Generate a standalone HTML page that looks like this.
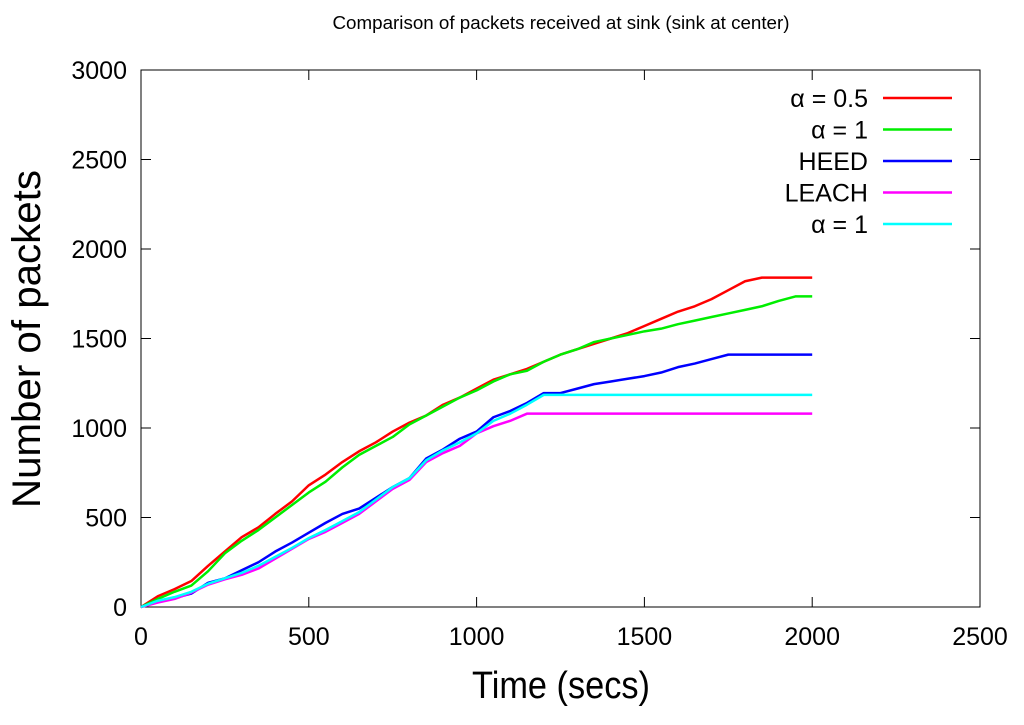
<!DOCTYPE html>
<html><head><meta charset="utf-8"><style>
body{margin:0;background:#fff}
text{font-family:"Liberation Sans","DejaVu Sans",sans-serif}
</style></head><body>
<svg id="c" width="1024" height="720" xmlns="http://www.w3.org/2000/svg">
<text x="561" y="29" font-size="18" text-anchor="middle" textLength="457" lengthAdjust="spacingAndGlyphs">Comparison of packets received at sink (sink at center)</text>
<rect x="141" y="70" width="839" height="537" fill="none" stroke="#000" stroke-width="1"/>
<g id="ticks"></g>
<text x="561" y="698" font-size="38" text-anchor="middle" textLength="178" lengthAdjust="spacingAndGlyphs">Time (secs)</text>
<text transform="translate(40,339) rotate(-90)" font-size="40" text-anchor="middle" textLength="338" lengthAdjust="spacingAndGlyphs">Number of packets</text>
<g id="series"></g>
<g id="legend"></g>
</svg>
<script>
const times=[0,50,100,150,200,250,300,350,400,450,500,550,600,650,700,750,800,850,900,950,1000,1050,1100,1150,1200,1250,1300,1350,1400,1450,1500,1550,1600,1650,1700,1750,1800,1850,1900,1950,2000];
const alpha05=[0,60,100,145,230,310,390,445,520,590,680,740,810,870,920,980,1030,1070,1130,1170,1220,1270,1300,1330,1370,1410,1440,1470,1500,1530,1570,1610,1650,1680,1720,1770,1820,1840,1840,1840,1840];
const alpha1=[0,45,85,120,200,300,370,430,500,570,640,700,780,850,900,950,1020,1070,1120,1170,1210,1260,1300,1320,1370,1410,1440,1480,1500,1520,1540,1555,1580,1600,1620,1640,1660,1680,1710,1735,1735];
const heed=[0,30,50,75,135,160,205,250,310,360,415,470,520,550,610,670,720,830,880,940,980,1060,1095,1140,1195,1195,1220,1245,1260,1275,1290,1310,1340,1360,1385,1410,1410,1410,1410,1410,1410];
const leach=[0,25,45,80,125,155,180,215,270,325,380,420,470,520,590,660,710,810,860,900,970,1010,1040,1080,1080,1080,1080,1080,1080,1080,1080,1080,1080,1080,1080,1080,1080,1080,1080,1080,1080];
const alpha1b=[0,35,55,85,130,160,190,230,280,330,385,430,480,530,600,670,720,820,875,920,970,1040,1080,1130,1185,1185,1185,1185,1185,1185,1185,1185,1185,1185,1185,1185,1185,1185,1185,1185,1185];
const xTicks=[0,500,1000,1500,2000,2500];
const yTicks=[0,500,1000,1500,2000,2500,3000];
const seriesNames=["α = 0.5","α = 1","HEED","LEACH","α = 1"];
const seriesColors=["#ff0000","#00ee00","#0000ff","#ff00ff","#00ffff"];
const seriesData=[alpha05,alpha1,heed,leach,alpha1b];
const NS="http://www.w3.org/2000/svg";
const X=v=>141+v/2500*839, Y=v=>607-v/3000*537;
function mk(t,a,p){const e=document.createElementNS(NS,t);for(const k in a)e.setAttribute(k,a[k]);p.appendChild(e);return e;}
const tg=document.getElementById('ticks');
xTicks.forEach(v=>{
 const l=mk('line',{x1:X(v),x2:X(v),y1:607,y2:597,stroke:'#000'},tg);
 
 
 const l2=mk('line',{x1:X(v),x2:X(v),y1:70,y2:80,stroke:'#000'},tg);
 
 
 const t=mk('text',{x:X(v),y:645,'font-size':25,'text-anchor':'middle'},tg);t.textContent=v;
 
 
});
yTicks.forEach(v=>{
 const l=mk('line',{x1:141,x2:151,y1:Y(v),y2:Y(v),stroke:'#000'},tg);
 
 
 const l2=mk('line',{x1:970,x2:980,y1:Y(v),y2:Y(v),stroke:'#000'},tg);
 
 
 const t=mk('text',{x:127,y:Y(v)+9,'font-size':25,'text-anchor':'end'},tg);t.textContent=v;
 
 
});
const sg=document.getElementById('series'),lg=document.getElementById('legend');
seriesData.forEach((d,i)=>{
 const p=mk('polyline',{points:d.map((v,j)=>X(times[j])+','+Y(v)).join(' '),fill:'none',stroke:seriesColors[i],'stroke-width':2.5,'stroke-linejoin':'round'},sg);
 
 
 const y=98+i*31.5;
 const t=mk('text',{x:868,y:y+9,'font-size':25,'text-anchor':'end'},lg);t.textContent=seriesNames[i];
 
 
 const l=mk('line',{x1:883,x2:952,y1:y,y2:y,stroke:seriesColors[i],'stroke-width':2.5},lg);
 
 
});
</script>
</body></html>
